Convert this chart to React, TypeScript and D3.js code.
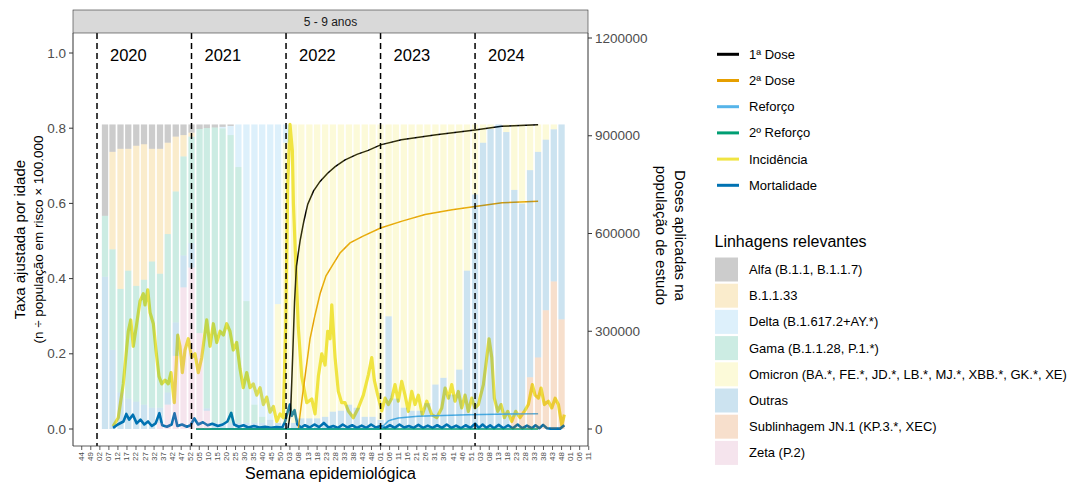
import React from "react";
import * as d3 from "d3";

// ---------- DATA ----------
const tickLabels = [
  "44","49",
  "02","07","12","17","22","27","32","37","42","47","52",
  "05","10","15","20","25","30","35","40","45","50",
  "03","08","13","18","23","28","33","38","43","48",
  "01","06","11","16","21","26","31","36","41","46","51",
  "03","08","13","18","23","28","33","38","43","48",
  "01","06","11",
];
const tickStart = new Date(2019, 10, 3);
const tickStepDays = 35;
const yearMarks = [2020, 2021, 2022, 2023, 2024];
const leftTicks = [0, 0.2, 0.4, 0.6, 0.8, 1.0];
const rightTicks = [0, 300000, 600000, 900000, 1200000];

const lineageNames = [
  "Alfa (B.1.1, B.1.1.7)",
  "B.1.1.33",
  "Delta (B.1.617.2+AY.*)",
  "Gama (B.1.1.28, P.1.*)",
  "Omicron (BA.*, FE.*, JD.*, LB.*, MJ.*, XBB.*, GK.*, XE)",
  "Outras",
  "Sublinhagem JN.1 (KP.3.*, XEC)",
  "Zeta (P.2)",
];
const lineageColors = ["#000000", "#E69F00", "#56B4E9", "#009E73", "#F0E442", "#0072B2", "#D55E00", "#CC79A7"];

// monthly shares, Feb 2020 .. Dec 2024 (59 months)
const alfa = [.30,.09,.08,.08,.07,.065,.08,.08,.06,.04,.035,.027,.015,.012,.01,.008,.005,0,0,0,0,0,0,0,0,0,0,0,0,0,0,0,0,0,0,0,0,0,0,0,0,0,0,0,0,0,0,0,0,0,0,0,0,0,0,0,0,0,0];
const b1133 = [0,.32,.46,.40,.46,.445,.37,.41,.30,.18,.07,.013,0,0,0,0,0,0,0,0,0,0,0,0,0,0,0,0,0,0,0,0,0,0,0,0,0,0,0,0,0,0,0,0,0,0,0,0,0,0,0,0,0,0,0,0,0,0,0];
const delta = [0,0,0,0,0,0,0,0,0,0,0,0,0,0,0,.005,.03,.14,.58,.92,.96,.97,.59,.06,0,0,0,0,0,0,0,0,0,0,0,0,0,0,0,0,0,0,0,0,0,0,0,0,0,0,0,0,0,0,0,0,0,0,0];
const gama = [.20,.33,.34,.42,.38,.41,.48,.44,.52,.43,.325,.35,.67,.92,.97,.97,.95,.84,.40,.06,.02,0,0,0,0,0,0,0,0,0,0,0,0,0,0,0,0,0,0,0,0,0,0,0,0,0,0,0,0,0,0,0,0,0,0,0,0,0,0];
const omicron = [0,0,0,0,0,0,0,0,0,0,0,0,0,0,0,0,0,0,0,0,0,0,.39,.92,.98,.965,.965,.965,.96,.943,.94,.92,.93,.96,.96,.97,.63,.90,.93,.94,.94,.915,.854,.832,.887,.805,.48,.23,.06,.015,0,.025,.215,.26,.15,.09,.05,.016,0];
const outras = [.50,.26,.12,.10,.09,.08,.07,.05,.04,.11,.105,.08,0,.008,.02,.02,.02,.02,.02,.02,.02,.03,.02,.02,.02,.035,.035,.035,.04,.057,.06,.08,.07,.04,.04,.03,.37,.10,.07,.06,.06,.085,.146,.168,.113,.195,.52,.77,.94,.985,1,.975,.745,.68,.68,.675,.56,.50,.64];
const jn1 = [0,0,0,0,0,0,0,0,0,0,0,0,0,0,0,0,0,0,0,0,0,0,0,0,0,0,0,0,0,0,0,0,0,0,0,0,0,0,0,0,0,0,0,0,0,0,0,0,0,0,0,0,.04,.06,.17,.235,.39,.485,.36];
const zeta = [0,0,0,0,0,0,0,.02,.08,.24,.465,.53,.315,.06,0,0,0,0,0,0,0,0,0,0,0,0,0,0,0,0,0,0,0,0,0,0,0,0,0,0,0,0,0,0,0,0,0,0,0,0,0,0,0,0,0,0,0,0,0];
const lineageShares = [alfa, b1133, delta, gama, omicron, outras, jn1, zeta];

// [decimal year, rate]
const incidencia: [number, number][] = [
  [2020.17,0.007],[2020.225,0.03],[2020.278,0.12],[2020.331,0.26],[2020.357,0.29],[2020.384,0.22],[2020.42,0.28],[2020.455,0.34],[2020.49,0.36],[2020.508,0.33],[2020.537,0.37],[2020.561,0.31],[2020.596,0.28],[2020.624,0.21],[2020.656,0.14],[2020.685,0.12],[2020.72,0.13],[2020.754,0.12],[2020.783,0.15],[2020.818,0.07],[2020.854,0.25],[2020.878,0.22],[2020.903,0.15],[2020.931,0.21],[2020.966,0.24],[2021.002,0.19],[2021.037,0.20],[2021.072,0.15],[2021.108,0.19],[2021.161,0.29],[2021.196,0.22],[2021.231,0.28],[2021.267,0.23],[2021.302,0.26],[2021.337,0.25],[2021.372,0.28],[2021.407,0.26],[2021.442,0.21],[2021.478,0.23],[2021.513,0.16],[2021.548,0.11],[2021.584,0.15],[2021.619,0.11],[2021.654,0.12],[2021.69,0.09],[2021.725,0.11],[2021.76,0.065],[2021.796,0.085],[2021.831,0.045],[2021.866,0.06],[2021.902,0.02],[2021.937,0.04],[2021.971,0.03],[2021.997,0.28],[2022.018,0.65],[2022.042,0.81],[2022.067,0.74],[2022.078,0.60],[2022.1,0.46],[2022.13,0.27],[2022.166,0.14],[2022.219,0.07],[2022.272,0.08],[2022.307,0.04],[2022.342,0.14],[2022.378,0.20],[2022.413,0.17],[2022.441,0.26],[2022.466,0.24],[2022.484,0.33],[2022.519,0.19],[2022.553,0.10],[2022.589,0.07],[2022.624,0.07],[2022.659,0.048],[2022.712,0.03],[2022.765,0.056],[2022.818,0.09],[2022.871,0.144],[2022.907,0.19],[2022.934,0.13],[2022.97,0.09],[2023.013,0.048],[2023.048,0.082],[2023.083,0.065],[2023.119,0.082],[2023.153,0.118],[2023.188,0.074],[2023.224,0.127],[2023.259,0.09],[2023.294,0.047],[2023.33,0.10],[2023.365,0.065],[2023.40,0.09],[2023.442,0.038],[2023.489,0.074],[2023.542,0.038],[2023.595,0.03],[2023.648,0.056],[2023.683,0.109],[2023.718,0.082],[2023.753,0.118],[2023.788,0.074],[2023.823,0.10],[2023.859,0.056],[2023.894,0.09],[2023.929,0.047],[2023.965,0.082],[2024.0,0.056],[2024.035,0.065],[2024.088,0.118],[2024.124,0.19],[2024.148,0.24],[2024.177,0.19],[2024.204,0.082],[2024.24,0.047],[2024.275,0.065],[2024.31,0.03],[2024.346,0.047],[2024.388,0.02],[2024.43,0.047],[2024.476,0.03],[2024.522,0.047],[2024.564,0.065],[2024.606,0.118],[2024.635,0.09],[2024.67,0.082],[2024.698,0.109],[2024.733,0.065],[2024.776,0.074],[2024.812,0.056],[2024.847,0.082],[2024.882,0.065],[2024.918,0.01],[2024.945,0.038],
];

const mortalidade: [number, number][] = [
  [2020.17,0.003],[2020.22,0.012],[2020.28,0.02],[2020.31,0.04],[2020.34,0.025],[2020.38,0.038],[2020.42,0.015],[2020.46,0.025],[2020.5,0.012],[2020.54,0.02],[2020.58,0.008],[2020.62,0.015],[2020.66,0.042],[2020.69,0.01],[2020.74,0.006],[2020.79,0.012],[2020.82,0.042],[2020.85,0.008],[2020.9,0.012],[2020.95,0.006],[2020.99,0.01],[2021.03,0.028],[2021.07,0.012],[2021.12,0.018],[2021.17,0.01],[2021.22,0.014],[2021.28,0.008],[2021.33,0.012],[2021.38,0.02],[2021.42,0.043],[2021.45,0.012],[2021.5,0.006],[2021.55,0.01],[2021.6,0.004],[2021.66,0.008],[2021.72,0.004],[2021.78,0.006],[2021.84,0.003],[2021.9,0.005],[2021.96,0.004],[2021.99,0.02],[2022.02,0.048],[2022.04,0.065],[2022.06,0.035],[2022.09,0.05],[2022.12,0.012],[2022.16,0.004],[2022.2,0.01],
  [2022.25,0.004],[2022.3,0.012],[2022.35,0.005],[2022.4,0.016],[2022.45,0.004],[2022.5,0.008],[2022.55,0.003],[2022.6,0.012],[2022.65,0.004],[2022.7,0.01],[2022.75,0.003],[2022.8,0.009],[2022.85,0.003],[2022.9,0.012],[2022.95,0.004],[2023.0,0.008],[2023.05,0.003],[2023.1,0.01],[2023.15,0.003],[2023.2,0.012],[2023.25,0.004],[2023.3,0.008],[2023.35,0.003],[2023.4,0.011],[2023.45,0.003],[2023.5,0.009],[2023.55,0.003],[2023.6,0.01],[2023.65,0.003],[2023.7,0.012],[2023.75,0.003],[2023.8,0.009],[2023.85,0.002],[2023.9,0.01],[2023.95,0.003],[2024.0,0.014],[2024.04,0.003],[2024.08,0.012],[2024.12,0.003],[2024.16,0.01],[2024.2,0.002],[2024.25,0.011],[2024.3,0.002],[2024.35,0.01],[2024.4,0.002],[2024.45,0.012],[2024.5,0.002],[2024.55,0.009],[2024.6,0.002],[2024.64,0.01],[2024.68,0.002],[2024.72,0.011],[2024.76,0.002],[2024.8,0.001],[2024.85,0.001],[2024.9,0.001],[2024.945,0.01],
];

// [decimal year, cumulative doses]
const dose1: [number, number][] = [
  [2021.05,0],[2022.02,0],[2022.05,60000],[2022.07,220000],[2022.09,390000],[2022.11,500000],[2022.15,580000],[2022.19,640000],[2022.23,690000],[2022.29,730000],[2022.36,760000],[2022.44,785000],[2022.52,805000],[2022.62,825000],[2022.75,843000],[2022.87,855000],[2023.0,872000],[2023.22,888000],[2023.59,903000],[2024.0,918000],[2024.28,929000],[2024.667,934000],
];
const dose2: [number, number][] = [
  [2021.05,0],[2022.13,0],[2022.138,20000],[2022.173,100000],[2022.219,200000],[2022.254,277000],[2022.307,350000],[2022.36,415000],[2022.423,470000],[2022.497,505000],[2022.571,540000],[2022.677,571000],[2022.815,592000],[2023.0,617000],[2023.228,638000],[2023.471,658000],[2023.757,673000],[2024.0,683000],[2024.286,694000],[2024.667,699000],
];
const reforco: [number, number][] = [
  [2021.05,0],[2023.0,0],[2023.013,3000],[2023.048,15000],[2023.083,25000],[2023.119,28500],[2023.188,34000],[2023.397,39000],[2023.926,44000],[2024.667,47000],
];
const reforco2: [number, number][] = [[2021.05,0],[2024.667,0]];

const lineSeries = [
  { name: "1ª Dose", color: "#000000" },
  { name: "2ª Dose", color: "#E69F00" },
  { name: "Reforço", color: "#56B4E9" },
  { name: "2º Reforço", color: "#009E73" },
  { name: "Incidência", color: "#F0E442" },
  { name: "Mortalidade", color: "#0072B2" },
];

// ---------- HELPERS ----------
function toYear(d: Date): number {
  const y = d.getFullYear();
  const a = new Date(y, 0, 1).getTime();
  const b = new Date(y + 1, 0, 1).getTime();
  return y + (d.getTime() - a) / (b - a);
}

const FONT = "'Liberation Sans', Arial, Helvetica, sans-serif";

export default function App() {
  const left = 73, right = 588, top = 33, bottom = 446;
  const x = d3.scaleLinear().domain([2019.746, 2025.195]).range([left, right]);
  const yL = d3.scaleLinear().domain([0, 1]).range([429, 53]);
  const yR = d3.scaleLinear().domain([0, 1200000]).range([429, 38]);

  // bars
  const months = d3.timeMonth.range(new Date(2020, 1, 1), new Date(2025, 0, 1));
  const barTop = d3.max(incidencia, (d) => d[1]) as number;
  const rows = months.map((m, i) => {
    const sum = d3.sum(lineageShares, (s) => s[i]);
    const r: any = { t: toYear(m) };
    lineageNames.forEach((n, k) => (r[n] = (lineageShares[k][i] / sum) * barTop));
    return r;
  });
  const stacked = d3.stack<any>().keys([...lineageNames].reverse())(rows);
  const bw = (x(2020 + 1 / 12) - x(2020)) * 0.8;
  const colorOf = (n: string) => lineageColors[lineageNames.indexOf(n)];

  const lineL = d3.line<[number, number]>().x((d) => x(d[0])).y((d) => yL(d[1]));
  const lineR = d3.line<[number, number]>().x((d) => x(d[0])).y((d) => yR(d[1]));

  const xt = tickLabels.map((lab, i) => ({ lab, t: toYear(d3.timeDay.offset(tickStart, tickStepDays * i)) }));

  const tickColor = "#4D4D4D";

  return (
    <svg width={1079} height={484} style={{ position: "absolute", left: 0, top: 0, background: "#fff" }} fontFamily={FONT}>
      <rect x={0} y={0} width={1079} height={484} fill="#fff" />
      <defs>
        <clipPath id="panel">
          <rect x={left} y={top} width={right - left} height={bottom - top} />
        </clipPath>
      </defs>
      <g clipPath="url(#panel)">
        {/* lines below translucent bars */}
        <path d={lineL(incidencia) || ""} fill="none" stroke="#F0E442" strokeWidth={3.2} strokeLinejoin="round" />
        <path d={lineL(mortalidade) || ""} fill="none" stroke="#0072B2" strokeWidth={2.6} strokeLinejoin="round" />
        <path d={lineR(dose1) || ""} fill="none" stroke="#000000" strokeWidth={1.5} />
        <path d={lineR(dose2) || ""} fill="none" stroke="#E69F00" strokeWidth={1.5} />
        <path d={lineR(reforco) || ""} fill="none" stroke="#56B4E9" strokeWidth={1.5} />
        <path d={lineR(reforco2) || ""} fill="none" stroke="#009E73" strokeWidth={1.5} />
        {/* bars */}
        {stacked.map((layer) => (
          <g key={layer.key} fill={colorOf(layer.key)} fillOpacity={0.2}>
            {layer.map((d: any, i: number) =>
              d[1] - d[0] > 0 ? (
                <rect key={i} x={x(d.data.t) - bw / 2} width={bw} y={yL(d[1])} height={yL(d[0]) - yL(d[1])} />
              ) : null
            )}
          </g>
        ))}
        {/* year lines */}
        {yearMarks.map((yr) => (
          <g key={yr}>
            <line x1={x(yr)} x2={x(yr)} y1={top} y2={bottom} stroke="#000" strokeWidth={1.5} strokeDasharray="6,4" />
            <text x={x(yr) + 13} y={55} fontSize={16.5} dominantBaseline="central" fill="#000">{yr}</text>
          </g>
        ))}
      </g>

      {/* strip */}
      <rect x={left} y={10} width={right - left} height={top - 10} fill="#D9D9D9" stroke="#333" strokeWidth={0.6} />
      <text x={(left + right) / 2} y={21.5} textAnchor="middle" dominantBaseline="central" fontSize={12} fill="#1A1A1A">5 - 9 anos</text>

      {/* left axis */}
      <line x1={left} x2={left} y1={top} y2={bottom} stroke="#333" strokeWidth={1} />
      {leftTicks.map((t) => (
        <g key={t}>
          <line x1={left - 4} x2={left} y1={yL(t)} y2={yL(t)} stroke="#333" />
          <text x={left - 7} y={yL(t)} textAnchor="end" dominantBaseline="central" fontSize={13.5} fill={tickColor}>{d3.format(".1f")(t)}</text>
        </g>
      ))}
      {/* right axis */}
      <line x1={right} x2={right} y1={top} y2={bottom} stroke="#333" strokeWidth={1} />
      {rightTicks.map((t) => (
        <g key={t}>
          <line x1={right} x2={right + 4} y1={yR(t)} y2={yR(t)} stroke="#333" />
          <text x={right + 7} y={yR(t)} dominantBaseline="central" fontSize={13.5} fill={tickColor}>{t}</text>
        </g>
      ))}
      {/* x axis */}
      <line x1={left} x2={right} y1={bottom} y2={bottom} stroke="#333" strokeWidth={0.8} />
      {xt.map((d, i) => (
        <g key={i}>
          <line x1={x(d.t)} x2={x(d.t)} y1={bottom} y2={bottom + 4} stroke="#333" strokeWidth={0.8} />
          <text transform={`translate(${x(d.t)},${bottom + 6}) rotate(-90)`} textAnchor="end" dominantBaseline="central" fontSize={8} fill={tickColor}>{d.lab}</text>
        </g>
      ))}

      {/* axis titles */}
      <text x={(left + right) / 2} y={473} textAnchor="middle" dominantBaseline="central" fontSize={16}>Semana epidemiológica</text>
      <text transform={`translate(19,${(top + bottom) / 2}) rotate(-90)`} textAnchor="middle" dominantBaseline="central" fontSize={15}>Taxa ajustada por idade</text>
      <text transform={`translate(38,${(top + bottom) / 2}) rotate(-90)`} textAnchor="middle" dominantBaseline="central" fontSize={13.5}>(n ÷ população em risco × 100.000</text>
      <text transform={`translate(680,${(top + bottom) / 2 - 4}) rotate(90)`} textAnchor="middle" dominantBaseline="central" fontSize={15}>Doses aplicadas na</text>
      <text transform={`translate(661,${(top + bottom) / 2 - 4}) rotate(90)`} textAnchor="middle" dominantBaseline="central" fontSize={15}>população de estudo</text>

      {/* line legend */}
      {lineSeries.map((s, i) => (
        <g key={s.name} transform={`translate(717,${54.3 + i * 26.2})`}>
          <line x1={0} x2={22} y1={0} y2={0} stroke={s.color} strokeWidth={3} />
          <text x={32} y={0} dominantBaseline="central" fontSize={13}>{s.name}</text>
        </g>
      ))}

      {/* fill legend */}
      <text x={714.5} y={241} dominantBaseline="central" fontSize={16}>Linhagens relevantes</text>
      {lineageNames.map((n, i) => (
        <g key={n} transform={`translate(715,${269.5 + i * 26.2})`}>
          <rect x={0} y={-12} width={23} height={24} fill={lineageColors[i]} fillOpacity={0.2} />
          <text x={34} y={0} dominantBaseline="central" fontSize={13}>{n}</text>
        </g>
      ))}
    </svg>
  );
}
